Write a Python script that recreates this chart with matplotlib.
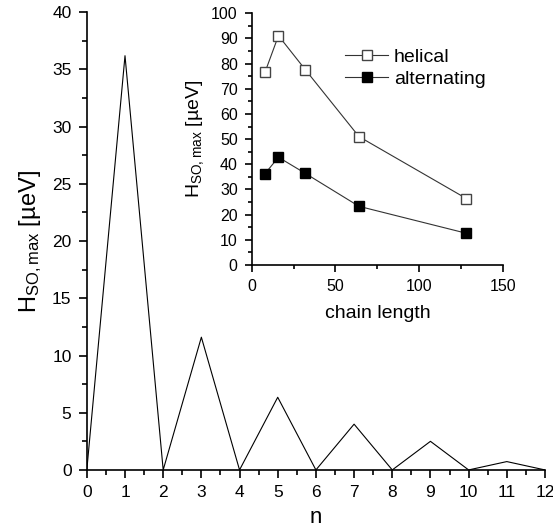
import matplotlib
matplotlib.use("Agg")
import matplotlib.pyplot as plt
from matplotlib.ticker import MultipleLocator

plt.rcParams['font.family'] = ['Liberation Sans', 'DejaVu Sans']
plt.rcParams['mathtext.fontset'] = 'custom'
plt.rcParams['mathtext.rm'] = 'Liberation Sans'
plt.rcParams['mathtext.it'] = 'Liberation Sans:italic'

# Main data
n_vals = [0, 1, 2, 3, 4, 5, 6, 7, 8, 9, 10, 11, 12]
h_vals = [0, 36.2, 0, 11.6, 0, 6.35, 0, 4.0, 0, 2.5, 0, 0.73, 0]

# Inset data
chain_len = [8, 16, 32, 64, 128]
helical = [76.6, 91.1, 77.6, 51.0, 26.4]
alternating = [36.3, 42.8, 36.4, 23.3, 12.6]

fig = plt.figure(figsize=(5.53, 5.31), dpi=100)
ax = fig.add_axes([0.157, 0.115, 0.8285, 0.862])
ax.plot(n_vals, h_vals, color='black', lw=0.8)
ax.set_xlim(0, 12)
ax.set_ylim(0, 40)
ax.xaxis.set_major_locator(MultipleLocator(1))
ax.xaxis.set_minor_locator(MultipleLocator(0.5))
ax.yaxis.set_major_locator(MultipleLocator(5))
ax.yaxis.set_minor_locator(MultipleLocator(2.5))
for s in ['top', 'right']:
    ax.spines[s].set_visible(False)
for s in ['left', 'bottom']:
    ax.spines[s].set_linewidth(1.2)
ax.tick_params(which='major', length=6, width=1.2, labelsize=12.5, direction='out', pad=5)
ax.tick_params(which='minor', length=3.5, width=1.2, direction='out')
ax.set_xlabel('n', fontsize=16, labelpad=5)
ax.set_ylabel(r'H$_{\mathrm{SO,max}}$ [µeV]', fontsize=17, labelpad=6)

ins = fig.add_axes([0.455, 0.501, 0.455, 0.474])
ins.plot(chain_len, helical, color='#333333', lw=0.8, marker='s', ms=6.5,
         mfc='white', mec='#444444', mew=1.0, label='helical')
ins.plot(chain_len, alternating, color='#333333', lw=0.8, marker='s', ms=6.5,
         mfc='black', mec='black', label='alternating')
ins.set_xlim(0, 150)
ins.set_ylim(0, 100)
ins.xaxis.set_major_locator(MultipleLocator(50))
ins.xaxis.set_minor_locator(MultipleLocator(25))
ins.yaxis.set_major_locator(MultipleLocator(10))
ins.yaxis.set_minor_locator(MultipleLocator(5))
for s in ['top', 'right']:
    ins.spines[s].set_visible(False)
for s in ['left', 'bottom']:
    ins.spines[s].set_linewidth(1.2)
ins.tick_params(which='major', length=5, width=1.2, labelsize=11.5, direction='out', pad=5)
ins.tick_params(which='minor', length=3, width=1.2, direction='out')
ins.set_xlabel('chain length', fontsize=14, labelpad=8)
ins.set_ylabel(r'H$_{\mathrm{SO,max}}$ [µeV]', fontsize=14, labelpad=4)
ins.legend(loc='upper right', bbox_to_anchor=(1.0, 0.93), frameon=False, fontsize=14,
           handlelength=2.2, handletextpad=0.3, labelspacing=0.2)

fig.savefig('out.png', dpi=100)
